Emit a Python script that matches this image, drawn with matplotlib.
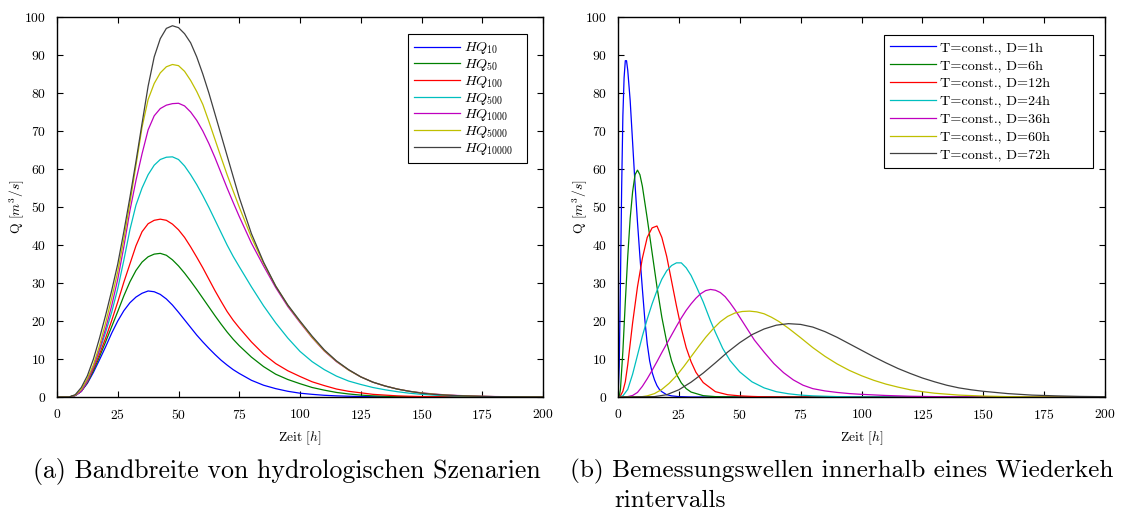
import matplotlib
matplotlib.use('Agg')
import matplotlib.pyplot as plt

plt.rcParams['font.family'] = 'serif'
plt.rcParams['font.serif'] = ['cmr10', 'DejaVu Serif']
plt.rcParams['mathtext.fontset'] = 'cm'
plt.rcParams['axes.formatter.use_mathtext'] = True
plt.rcParams['axes.unicode_minus'] = False

# (a) hydrological scenarios
t_a = [0, 2.5, 5, 7.5, 10, 12.5, 15, 17.5, 20, 22.5, 25, 27.5, 30, 32.5, 35, 37.5, 40, 42.5,
       45, 47.5, 50, 52.5, 55, 57.5, 60, 62.5, 65, 67.5, 70, 72.5, 75,
       80, 85, 90, 95, 100, 105, 110, 115, 120, 125, 130, 135, 140, 145, 150, 155, 160, 165,
       170, 175, 180, 185, 190, 195, 200]
hq10 = [0, 0, 0, 0.4, 1.5, 3.6, 6.5, 9.8, 13.2, 16.8, 20, 22.7, 24.8, 26.3, 27.3, 27.9, 27.7,
        27, 25.8, 24.2, 22.3, 20.3, 18.3, 16.3, 14.5, 12.8, 11.2, 9.7, 8.4, 7.2, 6.2,
        4.4, 3.1, 2.2, 1.5, 1.0, 0.7, 0.45, 0.3, 0.2, 0.12, 0.08, 0.05, 0.03, 0.02, 0.01,
        0, 0, 0, 0, 0, 0, 0, 0, 0, 0]
hq50 = [0, 0, 0, 0.4, 1.5, 3.8, 7, 10.6, 14.5, 18.5, 22.5, 26.6, 30.3, 33.3, 35.5, 36.9, 37.6,
        37.8, 37.3, 36.1, 34.5, 32.6, 30.5, 28.3, 26, 23.7, 21.4, 19.2, 17.1, 15.2, 13.5,
        10.5, 8, 6, 4.6, 3.5, 2.5, 1.8, 1.2, 0.8, 0.5, 0.3, 0.2, 0.12, 0.08, 0.05, 0.03,
        0.02, 0.01, 0, 0, 0, 0, 0, 0, 0]
hq100 = [0, 0, 0, 0.4, 1.5, 4, 7.5, 11.3, 15.5, 20.1, 25, 30.2, 35, 39.8, 43.5, 45.6, 46.5,
         46.8, 46.5, 45.5, 44, 42, 39.5, 36.8, 34, 31, 28, 25.2, 22.5, 20.2, 18.2,
         14.5, 11.3, 8.8, 6.9, 5.4, 4, 3, 2.1, 1.5, 1.1, 0.7, 0.5, 0.3, 0.2, 0.12, 0.08,
         0.05, 0.03, 0.02, 0, 0, 0, 0, 0, 0]
hq500 = [0, 0, 0, 0.4, 1.5, 4.2, 8, 12.2, 17, 22.3, 28.5, 36, 44, 50.5, 55, 58.5, 61, 62.5,
         63.1, 63.2, 62.5, 60.8, 58.5, 55.9, 53, 49.9, 46.6, 43.3, 40, 37, 34.3,
         29, 24, 19.5, 15.5, 12, 9.3, 7.2, 5.5, 4.2, 3.3, 2.5, 1.9, 1.4, 1.0, 0.7, 0.5,
         0.35, 0.25, 0.15, 0.1, 0.05, 0.03, 0.02, 0.01, 0]
hq1000 = [0, 0, 0, 0.4, 1.5, 4.3, 8, 12.6, 18, 24, 31, 39.5, 49, 57, 64, 70.3, 74, 75.9,
          76.8, 77.2, 77.3, 76.6, 75, 72.8, 70, 66.7, 63, 59, 55, 51.2, 47.5,
          40.5, 34.5, 28.8, 23.8, 19.6, 15.6, 12.1, 9.3, 7.1, 5.3, 3.9, 2.9, 2.1, 1.5, 1.1,
          0.8, 0.55, 0.4, 0.3, 0.2, 0.12, 0.08, 0.05, 0.03, 0.02]
hq5000 = [0, 0, 0, 0.5, 2, 4.8, 8.5, 13.5, 19.5, 26, 33, 41.5, 51, 61, 71, 78.3, 82.5, 85.3,
          86.9, 87.5, 87.2, 85.7, 83.3, 80.4, 77, 72.5, 67.8, 63.1, 58.5, 54.2, 50,
          42, 35.2, 29.2, 24.1, 19.8, 15.7, 12.2, 9.4, 7.1, 5.3, 3.9, 2.9, 2.1, 1.5, 1.05,
          0.75, 0.5, 0.35, 0.25, 0.17, 0.1, 0.07, 0.05, 0.03, 0.02]
hq10000 = [0, 0, 0, 0.6, 2.5, 5.6, 10, 15.5, 21.5, 28, 35, 43.5, 52.5, 62, 72, 81.8, 89.5,
           94.3, 97, 97.7, 97.2, 95.6, 93.2, 89.5, 85, 80, 74.5, 69, 63.5, 58, 52.5,
           43, 35.5, 29.2, 24.2, 20, 16, 12.4, 9.5, 7.2, 5.3, 3.9, 2.9, 2.1, 1.5, 1.0, 0.7,
           0.5, 0.35, 0.25, 0.17, 0.1, 0.07, 0.05, 0.03, 0.02]
labels_a = ['$HQ_{10}$', '$HQ_{50}$', '$HQ_{100}$', '$HQ_{500}$', '$HQ_{1000}$',
            '$HQ_{5000}$', '$HQ_{10000}$']

# (b) design hydrographs for one return period
t_d1 = [0, 0.5, 1, 1.5, 2, 2.5, 3, 3.5, 4, 5, 6, 7, 8, 9, 10, 11, 12, 13, 14, 15, 16, 17, 18,
        20, 22, 25, 30, 200]
q_d1 = [0, 8, 30, 55, 74, 84, 88.5, 88.5, 86, 78, 67, 56, 46, 37, 28.5, 20.5, 14, 9.5, 6.5,
        4.5, 3, 2, 1.4, 0.6, 0.3, 0.1, 0, 0]
t_d6 = [0, 0.5, 1, 2, 3, 4, 5, 6, 7, 8, 9, 10, 12, 14, 16, 18, 20, 22, 24, 26, 28, 30, 35,
        40, 50, 200]
q_d6 = [0, 0, 2, 12, 25, 37, 47, 54, 58.5, 59.7, 58.5, 55.5, 47, 38, 29, 21, 14.5, 9.5, 6,
        3.7, 2.2, 1.3, 0.35, 0.1, 0, 0]
t_d12 = [0, 1, 2, 3, 4, 5, 6, 8, 10, 12, 14, 16, 18, 20, 22, 24, 26, 28, 30, 32, 35, 40, 45,
         50, 55, 60, 70, 200]
q_d12 = [0, 0.3, 1.5, 4, 8.5, 14, 19.5, 29, 36.5, 42, 44.5, 45, 42, 37, 30.5, 24, 18, 13,
         9.3, 6.5, 3.8, 1.4, 0.6, 0.3, 0.15, 0.05, 0, 0]
t_d24 = [0, 2, 4, 6, 8, 10, 12, 14, 16, 18, 20, 22, 24, 26, 28, 30, 32, 35, 38, 40, 43, 46,
         50, 55, 60, 65, 70, 75, 80, 90, 100, 120, 200]
q_d24 = [0, 0.3, 2, 6, 11, 16, 20.5, 24.5, 28, 31, 33.2, 34.6, 35.3, 35.3, 34, 32, 29.3, 25,
         20, 17, 12.8, 9.6, 6.6, 4, 2.4, 1.4, 0.85, 0.5, 0.3, 0.1, 0.03, 0, 0]
t_d36 = [0, 4, 6, 8, 10, 12, 14, 16, 18, 20, 22, 24, 26, 28, 30, 32, 34, 36, 38, 40, 42, 44,
         46, 48, 50, 53, 56, 60, 64, 68, 72, 76, 80, 85, 90, 95, 100, 110, 120, 130, 140, 200]
q_d36 = [0, 0.1, 0.4, 1.2, 2.8, 4.8, 7, 9.3, 11.7, 14, 16.3, 18.6, 20.8, 22.8, 24.5, 26,
         27.2, 28, 28.3, 28.1, 27.5, 26.4, 24.8, 23, 21, 18, 15, 11.8, 8.8, 6.4, 4.5, 3.1,
         2.2, 1.6, 1.2, 0.9, 0.7, 0.4, 0.2, 0.1, 0.05, 0]
t_d60 = [0, 10, 12, 15, 18, 21, 24, 27, 30, 33, 36, 39, 42, 45, 48, 51, 54, 57, 60, 63, 66,
         70, 75, 80, 85, 90, 95, 100, 105, 110, 115, 120, 125, 130, 140, 150, 160, 170, 180,
         200]
q_d60 = [0, 0.1, 0.3, 0.9, 2, 3.6, 5.6, 8, 10.6, 13.2, 15.7, 17.9, 19.8, 21.2, 22.1, 22.5,
         22.6, 22.4, 21.9, 21, 19.9, 18.1, 15.6, 13, 10.7, 8.7, 7, 5.6, 4.4, 3.4, 2.6, 1.9,
         1.4, 1, 0.5, 0.25, 0.1, 0.05, 0.02, 0]
t_d72 = [0, 15, 20, 25, 30, 35, 40, 45, 50, 55, 60, 65, 70, 75, 80, 85, 90, 95, 100, 105, 110,
         115, 120, 125, 130, 135, 140, 145, 150, 160, 170, 180, 190, 200]
q_d72 = [0, 0.1, 0.6, 1.9, 3.9, 6.3, 9, 11.8, 14.3, 16.4, 17.9, 18.9, 19.3, 19.1, 18.4, 17.2,
         15.7, 14, 12.3, 10.6, 9, 7.5, 6.2, 5, 4, 3.1, 2.4, 1.9, 1.5, 0.9, 0.5, 0.3, 0.15, 0.08]
labels_b = ['T=const., D=1h', 'T=const., D=6h', 'T=const., D=12h', 'T=const., D=24h',
            'T=const., D=36h', 'T=const., D=60h', 'T=const., D=72h']

COLORS = ['#0000ff', '#008000', '#ff0000', '#00bfbf', '#bf00bf', '#bfbf00', '#404040']


def style_axes(ax, ylab_x):
    ax.set_xlim(0, 200)
    ax.set_ylim(0, 100)
    ax.set_xticks(range(0, 201, 25))
    ax.set_yticks(range(0, 101, 10))
    ax.tick_params(direction='in', top=True, right=True, length=4, width=0.8,
                   labelsize=9.8, pad=8)
    for s in ax.spines.values():
        s.set_linewidth(1.0)
    ax.set_xlabel('Zeit [$h$]', fontsize=9.8, labelpad=5)
    ax.set_ylabel('Q [$m^3/s$]', fontsize=9.8)
    ax.yaxis.set_label_coords(ylab_x, 0.5)


def add_legend(ax, labels_pos, spacing):
    leg = ax.legend(loc='upper left', bbox_to_anchor=labels_pos, mode='expand',
                    borderaxespad=0, fontsize=10.2, fancybox=False, framealpha=1,
                    edgecolor='black', handlelength=3.2, handletextpad=0.3,
                    labelspacing=spacing, borderpad=0.45)
    leg.get_frame().set_linewidth(0.8)


fig = plt.figure(figsize=(11.23, 5.15), dpi=100)
ax1 = fig.add_axes([57 / 1123, 118 / 515, 486 / 1123, 380 / 515])
ax2 = fig.add_axes([618 / 1123, 118 / 515, 487 / 1123, 380 / 515])

series_a = [hq10, hq50, hq100, hq500, hq1000, hq5000, hq10000]
for q, c, lab in zip(series_a, COLORS, labels_a):
    ax1.plot(t_a, q, color=c, lw=0.9, label=lab)
style_axes(ax1, -0.062)
add_legend(ax1, (0.722, 0.955, 0.245, 0), 0.05)

series_b = [(t_d1, q_d1), (t_d6, q_d6), (t_d12, q_d12), (t_d24, q_d24), (t_d36, q_d36),
            (t_d60, q_d60), (t_d72, q_d72)]
for (t, q), c, lab in zip(series_b, COLORS, labels_b):
    ax2.plot(t, q, color=c, lw=0.9, label=lab)
style_axes(ax2, -0.058)
add_legend(ax2, (0.546, 0.953, 0.429, 0), 0.35)

fig.text(287 / 1123, 1 - 478 / 515, '(a) Bandbreite von hydrologischen Szenarien',
         fontsize=18.6, ha='center', va='baseline')
fig.text(570 / 1123, 1 - 477 / 515, '(b) Bemessungswellen innerhalb eines Wiederkeh',
         fontsize=18.2, ha='left', va='baseline')
fig.text(614 / 1123, 1 - 507 / 515, 'rintervalls', fontsize=18.2, ha='left', va='baseline')

fig.savefig('out.png', dpi=100)
